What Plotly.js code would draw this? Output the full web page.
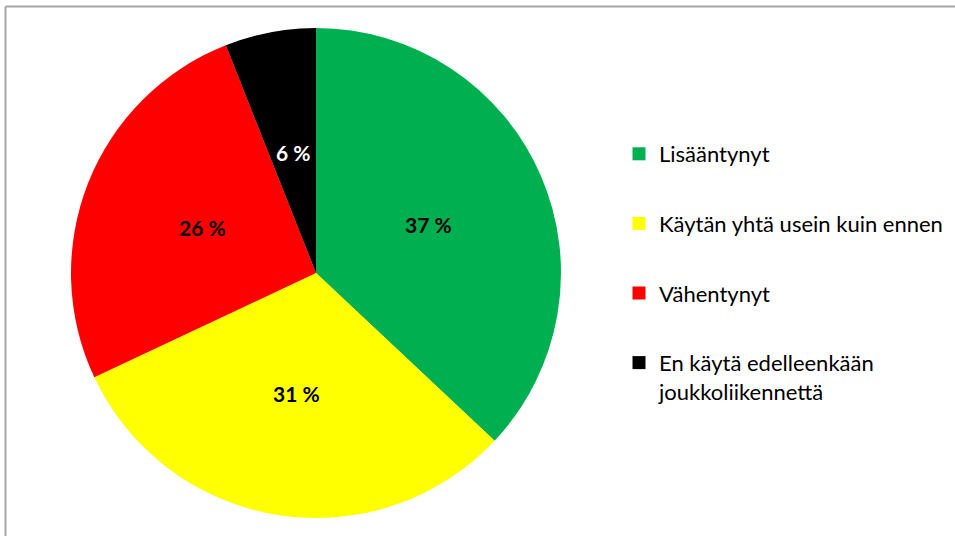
<!DOCTYPE html>
<html>
<head>
<meta charset="utf-8">
<script src="https://cdn.plot.ly/plotly-3.0.1.min.js"></script>
<style>
html,body{margin:0;padding:0;background:#fff;}
#chart{width:955px;height:536px;}
</style>
</head>
<body>
<div id="chart"></div>
<script>
var categories = ["Lisääntynyt", "Käytän yhtä usein kuin ennen", "Vähentynyt", "En käytä edelleenkään<br>joukkoliikennettä"];
var values = [37, 31, 26, 6];
var colors = ["#00B050", "#FFFF00", "#FF0000", "#000000"];
var labelColors = ["#000000", "#000000", "#000000", "#FFFFFF"];

var W = 955, H = 536;
var dom = {x: [71 / W, 561 / W], y: [1 - 518 / H, 1 - 28 / H]};
var traces = [{
  type: "pie",
  labels: categories,
  values: values,
  sort: false,
  direction: "clockwise",
  rotation: 0,
  marker: {colors: colors, line: {width: 0}},
  textinfo: "none",
  hoverinfo: "none",
  showlegend: false,
  domain: dom
}];
categories.forEach(function (c, i) {
  traces.push({
    type: "scatter",
    mode: "markers",
    x: [null], y: [null],
    name: c,
    legendgroup: "g" + i,
    marker: {symbol: "square", size: 13, color: colors[i]},
    hoverinfo: "none"
  });
});

// data labels placed at half radius on each slice's mid-angle (derived from values)
var total = values.reduce(function (a, b) { return a + b; }, 0);
var cxPx = (dom.x[0] + dom.x[1]) / 2 * W;
var cyPx = (dom.y[0] + dom.y[1]) / 2 * H;
var Rpx = Math.min((dom.x[1] - dom.x[0]) * W, (dom.y[1] - dom.y[0]) * H) / 2;
var annotations = [];
var cum = 0;
values.forEach(function (v, i) {
  var mid = (cum + v / 2) / total * 2 * Math.PI;
  cum += v;
  var r = 0.5 * Rpx;
  annotations.push({
    xref: "paper", yref: "paper",
    x: (cxPx + r * Math.sin(mid)) / W,
    y: (cyPx + r * Math.cos(mid)) / H,
    text: v + " %",
    showarrow: false,
    xanchor: "center", yanchor: "middle",
    font: {family: "Lato, sans-serif", size: 21, color: labelColors[i], weight: "bold"}
  });
});

var layout = {
  width: W, height: H,
  margin: {l: 0, r: 0, t: 0, b: 0},
  paper_bgcolor: "#fff",
  plot_bgcolor: "#fff",
  xaxis: {visible: false},
  yaxis: {visible: false},
  showlegend: true,
  legend: {
    x: 619 / W, xanchor: "left",
    y: 1 - 133 / H, yanchor: "top",
    tracegroupgap: 38,
    valign: "top",
    font: {family: "Lato, sans-serif", size: 22, color: "#000"},
    bgcolor: "rgba(0,0,0,0)"
  },
  annotations: annotations,
  shapes: [
    {type: "line", xref: "paper", yref: "paper", x0: 5.5 / W, x1: 1, y0: 1 - 6.5 / H, y1: 1 - 6.5 / H, line: {color: "#A6A6A6", width: 2}},
    {type: "line", xref: "paper", yref: "paper", x0: 5.5 / W, x1: 5.5 / W, y0: 0, y1: 1 - 6.5 / H, line: {color: "#A6A6A6", width: 2}}
  ]
};
Plotly.newPlot("chart", traces, layout, {displayModeBar: false, staticPlot: true});
</script>
</body>
</html>
